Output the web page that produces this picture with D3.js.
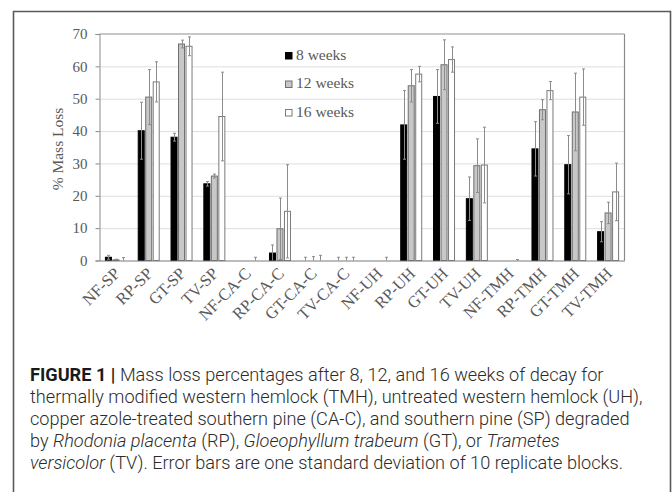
<!DOCTYPE html>
<html>
<head>
<meta charset="utf-8">
<script src="https://cdn.jsdelivr.net/npm/d3@7"></script>
<style>
  body { margin: 0; background: #fff; }
  svg { display: block; }
</style>
</head>
<body>
<svg id="chart" width="672" height="492"></svg>
<script>
// data
const categories = ["NF-SP", "RP-SP", "GT-SP", "TV-SP", "NF-CA-C", "RP-CA-C", "GT-CA-C", "TV-CA-C",
                    "NF-UH", "RP-UH", "GT-UH", "TV-UH", "NF-TMH", "RP-TMH", "GT-TMH", "TV-TMH"];
const series = ["8 weeks", "12 weeks", "16 weeks"];

const week8  = [1.0, 40.1, 38.1, 23.7, 0, 2.3, 0, 0, 0, 41.9, 50.7, 19.1, 0, 34.5, 29.6, 8.9];
const sd8    = [0.6, 8.8, 1.2, 0.7, 0, 2.5, 1.0, 1.0, 0, 10.6, 8.3, 6.7, 0, 8.4, 9.0, 3.1];
const week12 = [0.2, 50.5, 66.9, 26.1, 0, 9.8, 0, 0, 0, 54.0, 60.5, 29.3, 0, 46.6, 45.9, 14.7];
const sd12   = [0.2, 8.5, 1.2, 0.6, 0, 9.5, 1.2, 1.0, 0, 5.0, 7.7, 8.3, 0, 3.1, 12.0, 3.3];
const week16 = [0, 55.2, 66.2, 44.5, 0, 15.2, 0, 0, 0, 57.6, 62.1, 29.5, 0, 52.5, 50.5, 21.2];
const sd16   = [0.9, 6.2, 2.9, 13.7, 1.0, 14.4, 1.6, 1.0, 1.0, 2.4, 3.9, 11.7, 0.3, 2.8, 8.7, 8.9];

const yTicks = [0, 10, 20, 30, 40, 50, 60, 70];

const values = [week8, week12, week16];
const errors = [sd8, sd12, sd16];
const fills = ["#000000", "#c8c8c8", "#ffffff"];
const strokes = ["#000000", "#6e6e6e", "#7a7a7a"];

const svg = d3.select("#chart");

// outer figure frame (open at the bottom)
svg.append("path")
    .attr("d", "M13.5,492V11.5H670.5V492")
    .attr("fill", "none")
    .attr("stroke", "#5a5a5a")
    .attr("stroke-width", 1.6);

const plotLeft = 99.5, plotRight = 624.5, plotTop = 34, plotBottom = 260.5;

const x = d3.scaleBand().domain(categories).range([plotLeft, plotRight]);
const xInner = d3.scaleBand().domain(series).range([-10.5, 10.5]).paddingInner(0.2);
const y = d3.scaleLinear().domain([0, 70]).range([plotBottom, plotTop]).clamp(true);

// gridlines
svg.append("g")
    .attr("transform", `translate(${plotLeft},0)`)
    .call(d3.axisLeft(y).tickValues(yTicks.slice(1, -1)).tickSize(-(plotRight - plotLeft)).tickFormat(""))
    .call(g => g.select(".domain").remove())
    .selectAll("line").attr("stroke", "#dedede");

// plot border top/right
svg.append("line").attr("x1", plotLeft).attr("x2", plotRight).attr("y1", plotTop).attr("y2", plotTop)
    .attr("stroke", "#b4b4b4").attr("stroke-width", 1.3);
svg.append("line").attr("x1", plotRight).attr("x2", plotRight).attr("y1", plotTop).attr("y2", plotBottom)
    .attr("stroke", "#8a8a8a").attr("stroke-width", 1.2);

// y axis
const yAxis = svg.append("g")
    .attr("transform", `translate(${plotLeft},0)`)
    .call(d3.axisLeft(y).tickValues(yTicks).tickSize(4).tickPadding(8));
yAxis.select(".domain").attr("stroke", "#8a8a8a");
yAxis.selectAll(".tick line").attr("stroke", "#8a8a8a");
yAxis.selectAll("text")
    .attr("font-family", "Liberation Serif, Times New Roman, serif")
    .attr("font-size", 15)
    .attr("fill", "#595959");

svg.append("text")
    .attr("transform", `translate(63,149) rotate(-90)`)
    .attr("text-anchor", "middle")
    .attr("font-family", "Liberation Serif, Times New Roman, serif")
    .attr("font-size", 15.5)
    .attr("fill", "#595959")
    .text("% Mass Loss");

// bars
const groups = svg.append("g").selectAll("g")
    .data(series)
    .join("g");

groups.each(function (s, si) {
    const g = d3.select(this);
    g.selectAll("rect")
        .data(categories)
        .join("rect")
        .attr("x", c => x(c) + x.bandwidth() / 2 + xInner(s))
        .attr("width", xInner.bandwidth())
        .attr("y", (c, i) => y(values[si][i]))
        .attr("height", (c, i) => y(0) - y(values[si][i]))
        .attr("fill", fills[si])
        .attr("stroke", strokes[si])
        .attr("stroke-width", 1);
});

// error bars
groups.each(function (s, si) {
    const g = d3.select(this).append("g")
        .attr("stroke", "#8c8c8c").attr("stroke-width", 1).attr("fill", "none");
    categories.forEach((c, i) => {
        const e = errors[si][i];
        if (!e) return;
        const cx = Math.round(x(c) + x.bandwidth() / 2 + xInner(s) + xInner.bandwidth() / 2) + 0.5;
        const v = values[si][i];
        const y1 = y(v + e), y0 = y(v - e);
        g.append("line").attr("x1", cx).attr("x2", cx).attr("y1", y1).attr("y2", y0);
        g.append("line").attr("x1", cx - 1.5).attr("x2", cx + 1.5).attr("y1", y1).attr("y2", y1);
        if (v - e > 0) g.append("line").attr("x1", cx - 1.5).attr("x2", cx + 1.5).attr("y1", y0).attr("y2", y0);
    });
});

// x axis
const xAxis = svg.append("g")
    .attr("transform", `translate(0,${plotBottom})`)
    .call(d3.axisBottom(x).tickSize(0).tickPadding(0));
xAxis.select(".domain").attr("stroke", "#7a7a7a").attr("stroke-width", 1.2);
xAxis.selectAll("text")
    .attr("font-family", "Liberation Serif, Times New Roman, serif")
    .attr("font-size", 16.5)
    .attr("fill", "#595959")
    .attr("text-anchor", "end")
    .attr("dy", null)
    .attr("y", 0)
    .attr("transform", "translate(5,14) rotate(-45)");

// legend
const legend = svg.append("g").selectAll("g")
    .data(series)
    .join("g")
    .attr("transform", (d, i) => `translate(285,${52 + i * 28.5})`);
legend.append("rect")
    .attr("x", 0.5).attr("y", 0.5).attr("width", 6.5).attr("height", 6.5)
    .attr("fill", (d, i) => fills[i])
    .attr("stroke", (d, i) => strokes[i]);
legend.append("text")
    .attr("x", 11).attr("y", 7.5)
    .attr("font-family", "Liberation Serif, Times New Roman, serif")
    .attr("font-size", 15.5)
    .attr("fill", "#595959")
    .text(d => d);

// caption
const captionLines = [
    [["FIGURE 1 | ", "b"], ["Mass loss percentages after 8, 12, and 16 weeks of decay for", ""]],
    [["thermally modified western hemlock (TMH), untreated western hemlock (UH),", ""]],
    [["copper azole-treated southern pine (CA-C), and southern pine (SP) degraded", ""]],
    [["by ", ""], ["Rhodonia placenta", "i"], [" (RP), ", ""], ["Gloeophyllum trabeum", "i"], [" (GT), or ", ""], ["Trametes", "i"]],
    [["versicolor", "i"], [" (TV). Error bars are one standard deviation of 10 replicate blocks.", ""]]
];
const caption = svg.append("g")
    .attr("font-family", "Roboto, Liberation Sans, sans-serif")
    .attr("font-weight", 300)
    .attr("fill", "#2b2b2b");
captionLines.forEach((line, li) => {
    const t = caption.append("text").attr("x", 30).attr("y", 381 + li * 22).attr("font-size", 16);
    line.forEach(([str, style]) => {
        const sp = t.append("tspan").text(str);
        if (style === "b") sp.attr("font-weight", 700).attr("fill", "#1a1a1a");
        if (style === "i") sp.attr("font-style", "italic");
    });
});
// size caption so its widest line fits like the figure
const len = caption.selectAll("text").nodes()[1].getComputedTextLength();
caption.selectAll("text").attr("font-size", 16 * 613 / len);
</script>
</body>
</html>
